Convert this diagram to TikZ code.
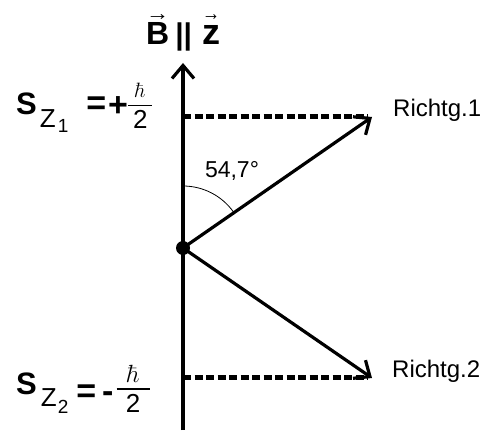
\documentclass[tikz,border=0pt]{standalone}
\usepackage{amsmath}
\usepackage[no-math]{fontspec}
\setmainfont{Liberation Sans}
\usepackage{graphicx}
\usetikzlibrary{arrows.meta}

% kleiner Pfeil ueber einem Buchstaben
\newcommand{\arrowover}[1]{\setbox0\hbox{#1}%
  \rlap{\raisebox{24pt}{\resizebox{\wd0}{6pt}{\textbf{→}}}}\box0}
% hquer/2, #1 = Groesse von hquer, #2 = Absenkung, #3 = Bruchstrichlaenge
\newcommand{\hfrac}[3]{\ensuremath{\genfrac{}{}{1.5pt}{0}{\raisebox{-#2}{\fontsize{#1}{#1}\selectfont$\hbar$}}{\text{\makebox[#3]{2}}}}}

\begin{document}
\begin{tikzpicture}[x=1pt,y=1pt,
  thickline/.style={line width=3.2pt},
  vecarrow/.style={thickline,-{Straight Barb[length=13pt,width=22pt]}},
  proj/.style={line width=5pt,dash pattern=on 8pt off 3.5pt},
  lbl/.style={anchor=base west,inner sep=0pt,font=\fontsize{24}{24}\selectfont},
  eigen/.style={anchor=base west,inner sep=0pt,font=\fontsize{26}{26}\selectfont}]
  \useasboundingbox (0,0) rectangle (494,430);
  % Achse und Ursprung
  \coordinate (bottom) at (183,0);
  \coordinate (top) at (183,367);
  \node[circle,fill,inner sep=0pt,minimum size=14pt] (O) at (183,182) {};
  \coordinate (tip1) at (372,313);
  \coordinate (tip2) at (372,52);
  \coordinate (p1) at (183,313);
  \coordinate (p2) at (183,52);
  \draw[vecarrow] (bottom) -- (top);
  \node[anchor=base west,inner sep=0pt,font=\bfseries\fontsize{30}{30}\selectfont] (field) at (146,385)
    {{\fontsize{32}{32}\selectfont\arrowover{B}}\hspace{6pt}||\hspace{10pt}{\fontsize{36}{36}\selectfont\arrowover{z}}};
  % Projektionen
  \draw[proj] (p1) -- ([xshift=-4pt]tip1);
  \draw[proj] (p2) -- ([xshift=-4pt]tip2);
  % Richtungen
  \draw[vecarrow] (O.center) -- (tip1);
  \draw[vecarrow] (O.center) -- (tip2);
  \draw[line width=0.8pt] (O.center) ++(90:62) arc[start angle=90,end angle=35.3,radius=62];
  \node[inner sep=0pt,font=\fontsize{23}{23}\selectfont] (angle) at (232,259) {54,7°};
  \node[lbl] (dir1) at (393,313) {Richtg.1};
  \node[lbl] (dir2) at (392,52) {Richtg.2};
  % Eigenwerte
  \node[eigen] (s1) at (16,315)
    {{\fontsize{31}{31}\selectfont\bfseries S}\hspace{3pt}\raisebox{-13pt}{Z\hspace{2pt}\raisebox{-5pt}{\fontsize{19}{19}\selectfont 1}}\hspace{18pt}%
     {\fontsize{34}{34}\selectfont\bfseries =\hspace{2pt}\raisebox{-2pt}{+}}\hspace{-1pt}\raisebox{3.5pt}{\hfrac{22}{3pt}{24pt}}};
  \node[eigen] (s2) at (16,35)
    {{\fontsize{31}{31}\selectfont\bfseries S}\hspace{4pt}\raisebox{-12pt}{Z\hspace{1pt}\raisebox{-7pt}{\fontsize{19}{19}\selectfont 2}}\hspace{8pt}%
     {\fontsize{34}{34}\selectfont\bfseries\raisebox{-7.5pt}{=}\hspace{6pt}\raisebox{-8pt}{-}}\hspace{2pt}\hfrac{24}{4.6pt}{33pt}};
\end{tikzpicture}
\end{document}
